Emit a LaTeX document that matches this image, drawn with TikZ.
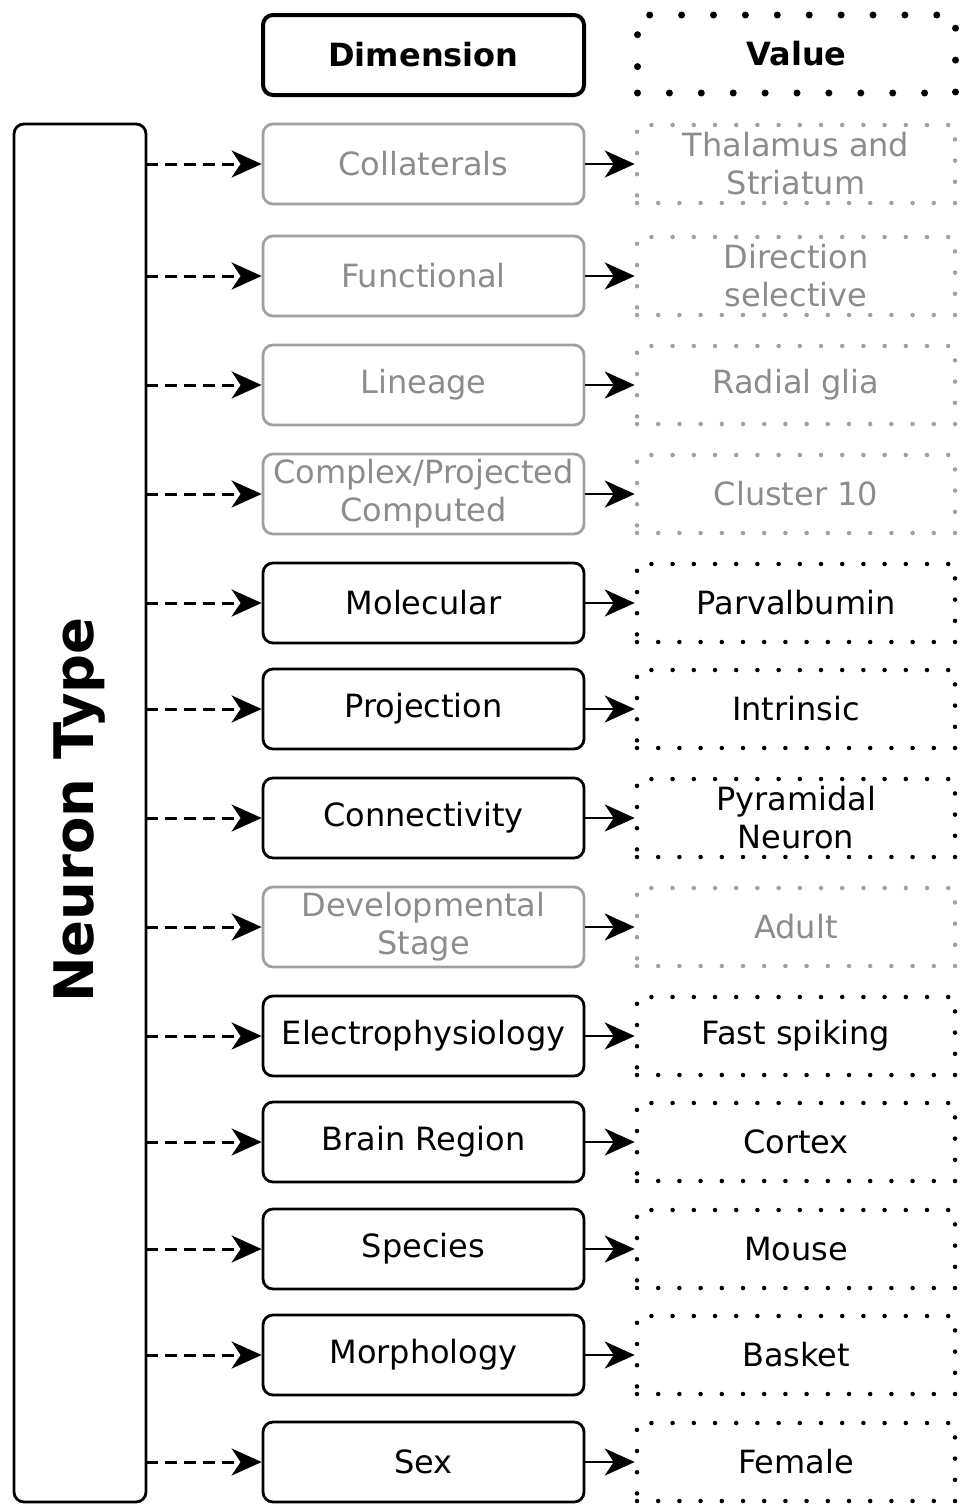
\documentclass[tikz,border=0pt]{standalone}
\usepackage{fontspec}
\setmainfont{DejaVu Sans}
\usetikzlibrary{arrows.meta}
\definecolor{fadetext}{HTML}{8C8C8C}
\definecolor{fadeline}{HTML}{A0A0A0}
\tikzset{
 dimbox/.style={draw, line width=2.8pt, rounded corners=10pt, minimum width=321pt, minimum height=80pt, inner sep=0pt, align=center, font=\fontsize{32}{38}\selectfont},
 valbox/.style={draw, line width=4.5pt, line cap=round, dash pattern=on 0pt off 21.2pt, minimum width=318pt, minimum height=78pt, inner sep=0pt, align=center, font=\fontsize{32}{38}\selectfont},
 faded/.style={draw=fadeline, text=fadetext},
 plain/.style={draw=black, text=black},
 linkhead/.style={-{Stealth[length=30pt,width=27pt,inset=9pt]}},
}
\begin{document}
\begin{tikzpicture}[x=1pt,y=-1pt]
\useasboundingbox (0,0) rectangle (965,1505);
% headers
\node[dimbox, line width=4pt, font=\fontsize{32}{38}\selectfont\bfseries] (dimhead) at (423.5,55) {Dimension};
\node[valbox, line width=7pt, dash pattern=on 0pt off 31.9pt, minimum height=78pt, font=\fontsize{32}{38}\selectfont\bfseries] (valhead) at (796.5,54) {Value};
% neuron type
\draw[line width=2.8pt, rounded corners=10pt] (14,124) rectangle (146,1502);
\coordinate (typeside) at (146,124);
\node[rotate=90, font=\fontsize{54.5}{60}\selectfont\bfseries] (type) at (80,810) {Neuron Type};
% rows
\foreach \yc/\dname/\vname/\tone [count=\i] in {
  164/Collaterals/{Thalamus and\\Striatum}/faded,
  276/Functional/{Direction\\selective}/faded,
  385/Lineage/{Radial glia}/faded,
  494/{Complex/Projected\\Computed}/{Cluster 10}/faded,
  603/Molecular/Parvalbumin/plain,
  709/Projection/Intrinsic/plain,
  818/Connectivity/{Pyramidal\\Neuron}/plain,
  927/{Developmental\\Stage}/Adult/faded,
  1036/Electrophysiology/{Fast spiking}/plain,
  1142/{Brain Region}/Cortex/plain,
  1249/Species/Mouse/plain,
  1355/Morphology/Basket/plain,
  1462/Sex/Female/plain}{
 \node[dimbox, \tone] (dim\i) at (423.5,\yc) {\dname};
 \node[valbox, \tone] (val\i) at (796,\yc) {\vname};
 \draw[line width=3pt, dash pattern=on 12pt off 7pt, linkhead] (typeside |- dim\i.west) -- (dim\i.west);
 \draw[line width=2.8pt, linkhead] (dim\i.east) -- (val\i.west);
}
\end{tikzpicture}
\end{document}
